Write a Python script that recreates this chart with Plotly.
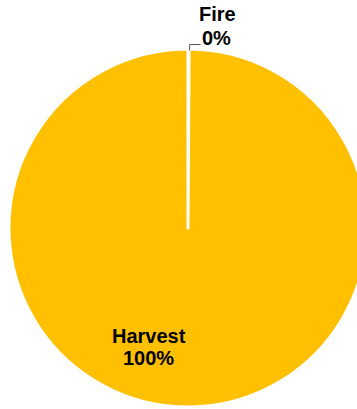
import math
import plotly.graph_objects as go

# ---- data ----
categories = ["Fire", "Harvest"]
values = [0.1, 99.9]
colors = ["#FFC000", "#FFC000"]

total = sum(values)
percents = [f"{round(v / total * 100)}%" for v in values]

W, H = 400, 409
cx, cy, r = 188.0, 228.0, 179.0  # pie centre / radius in px

dom_x = [(cx - r) / W, (cx + r) / W]
dom_y = [max(0, 1 - (cy + r) / H), 1 - (cy - r) / H]

fig = go.Figure(
    go.Pie(
        labels=categories,
        values=values,
        sort=False,
        direction="clockwise",
        rotation=0,
        marker=dict(colors=colors, line=dict(color="white", width=3)),
        textinfo="none",
        hoverinfo="label+percent",
        domain=dict(x=dom_x, y=dom_y),
        showlegend=False,
    )
)

# leader line for Fire from slice mid-angle
fire_frac = values[0] / total
ang = 2 * math.pi * fire_frac / 2
sx = cx + 1 + (r - 1.5) * math.sin(ang)
sy = cy - (r - 1.5) * math.cos(ang)
p = lambda x, y: f"{x / W},{1 - y / H}"
fig.add_shape(
    type="path",
    xref="paper", yref="paper",
    path=f"M {p(sx, sy)} L {p(sx, sy - 6)} L {p(sx + 11, sy - 6)}",
    line=dict(color="#595959", width=1),
)

font = dict(family="Liberation Sans, Arial, sans-serif", size=20, color="#000000")

def ann(text, x, y):
    fig.add_annotation(
        text=f"<b>{text}</b>", x=x / W, y=1 - y / H, xref="paper", yref="paper",
        xanchor="center", yanchor="middle", showarrow=False, font=font,
    )

ann(categories[0], 217, 14)
ann(percents[0], 216.5, 38)
ann(categories[1], 149, 335.5)
ann(percents[1], 148.5, 358)

fig.update_layout(
    width=W, height=H,
    margin=dict(l=0, r=0, t=0, b=0),
    paper_bgcolor="white", plot_bgcolor="white",
)

fig.write_html(
    "out.html",
    config={"displayModeBar": False},
    post_script="document.body.style.margin='0';document.body.style.overflow='hidden';document.documentElement.style.overflow='hidden';",
)
